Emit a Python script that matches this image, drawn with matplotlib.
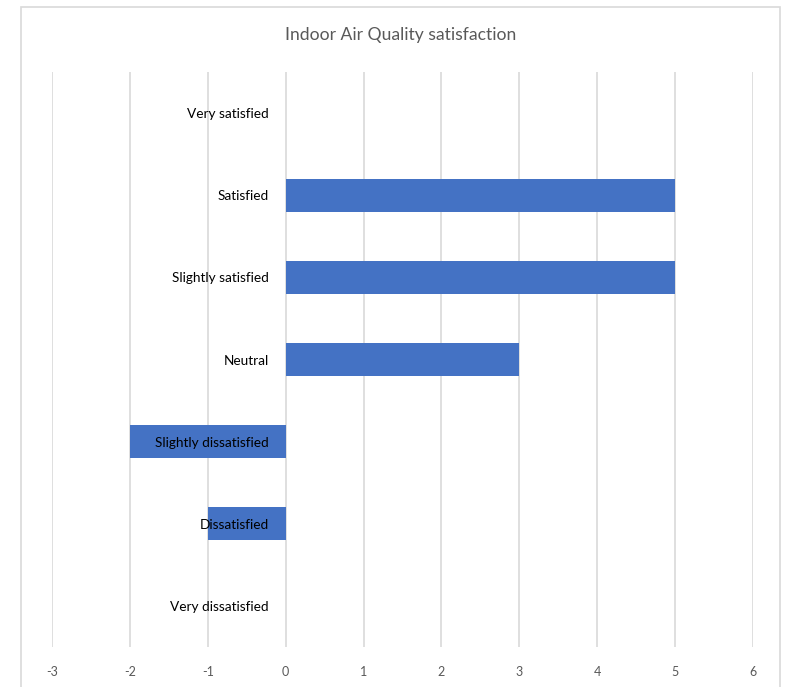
import matplotlib.pyplot as plt
from matplotlib.patches import Rectangle

categories = ["Very satisfied", "Satisfied", "Slightly satisfied", "Neutral",
              "Slightly dissatisfied", "Dissatisfied", "Very dissatisfied"]
values = [0, 5, 5, 3, -2, -1, 0]
x_ticks = [-3, -2, -1, 0, 1, 2, 3, 4, 5, 6]
title = "Indoor Air Quality satisfaction"

W, H = 795, 687
fig = plt.figure(figsize=(W / 100, H / 100), dpi=100)
fig.patch.set_facecolor("white")

# outer chart border
fig.patches.append(Rectangle((21 / W, -0.02), (780 - 21) / W, 1.02 - 7 / H,
                             transform=fig.transFigure, fill=False,
                             edgecolor="#D9D9D9", linewidth=1.2))

ax = fig.add_axes([52 / W, 1 - 647 / H, (753 - 52) / W, (647 - 72) / H])
ypos = list(range(len(categories)))
ax.barh(ypos, values, height=0.4, color="#4472C4", zorder=2)
ax.set_ylim(len(categories) - 0.5, -0.5)
ax.set_xlim(x_ticks[0], x_ticks[-1])
ax.set_xticks(x_ticks)
ax.set_xticklabels([str(t) for t in x_ticks], fontsize=9, color="#595959",
                   family=["Lato", "DejaVu Sans"])
ax.tick_params(axis="x", length=0, pad=14)
ax.set_yticks([])
ax.grid(axis="x", color="#D9D9D9", linewidth=1.2, zorder=0)
for s in ax.spines.values():
    s.set_visible(False)

# category labels sit just left of the zero line
for y, name in zip(ypos, categories):
    ax.annotate(name, xy=(0, y), xytext=(-12, -0.8), textcoords="offset points",
                ha="right", va="center", fontsize=9.8, color="#000000",
                family=["Lato", "DejaVu Sans"], zorder=5)

fig.text(401 / W, 1 - 35 / H, title, ha="center", va="center", fontsize=12.6,
         color="#595959", family=["Lato", "DejaVu Sans"])

fig.savefig("out.png", dpi=100)
